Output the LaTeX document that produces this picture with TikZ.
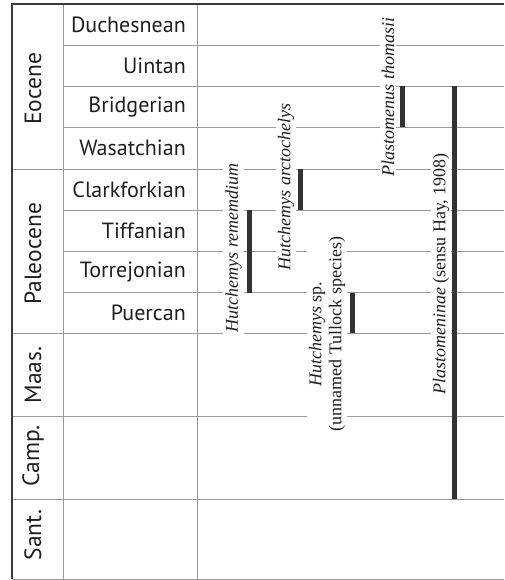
\documentclass[tikz,border=0pt]{standalone}
\usepackage{fontspec}
\setmainfont{Liberation Serif}
\setsansfont{PT Sans}
\definecolor{gridgray}{HTML}{9A9A9A}
\definecolor{framegray}{HTML}{3A3A3A}
\definecolor{bargray}{HTML}{333333}
\begin{document}
\begin{tikzpicture}[x=1pt,y=-1pt,
  grid/.style={draw=gridgray,line width=0.9pt},
  frame/.style={draw=framegray,line width=2pt},
  bar/.style={draw=bargray,line width=5pt},
  stage/.style={font=\sffamily\fontsize{22}{26}\selectfont,anchor=east,inner sep=0pt,text=black!88},
  epoch/.style={font=\sffamily\fontsize{23.5}{28}\selectfont,rotate=90,inner sep=0pt,text=black!88},
  taxon/.style={font=\fontsize{18}{20}\selectfont,rotate=90,fill=white,inner sep=2pt,text=black!88}]
\useasboundingbox (0,0) rectangle (504,580);
% grid
\foreach \y in {45,86,127.5,210,251,292.5} \draw[grid] (63,\y) -- (504,\y);
\foreach \y in {169,333,416,499,579} \draw[grid] (12,\y) -- (504,\y);
\draw[grid] (63,4) -- (63,579);
\draw[grid] (197,4) -- (197,579);
% frame
\draw[frame] (12,579) -- (12,4) -- (504,4);
% stages
\node[stage] (duch) at (186,24.5) {Duchesnean};
\node[stage] (uint) at (186,65.5) {Uintan};
\node[stage] (brid) at (186,106.75) {Bridgerian};
\node[stage] (wasa) at (186,148.25) {Wasatchian};
\node[stage] (clar) at (186,189.5) {Clarkforkian};
\node[stage] (tiff) at (186,230.5) {Tiffanian};
\node[stage] (torr) at (186,271.75) {Torrejonian};
\node[stage] (puer) at (186,312.75) {Puercan};
% epochs
\node[epoch] (eoc) at (33,89) {Eocene};
\node[epoch] (pal) at (33,254) {Paleocene};
\node[epoch] (maas) at (33,375) {Maas.};
\node[epoch] (camp) at (33,456) {Camp.};
\node[epoch] (sant) at (33,535) {Sant.};
% taxa labels
\node[taxon] (hrem) at (233.5,248) {\textit{Hutchemys rememdium}};
\node[taxon] (harc) at (286,187) {\textit{Hutchemys arctochelys}};
\node[taxon] (ptho) at (388,97) {\textit{Plastomenus thomasii}};
\node[taxon] (plas) at (441,274) {\textit{Plastomeninae} (sensu Hay, 1908)};
\node[taxon,align=center] (hsp) at (327,334) {\textit{Hutchemys} sp.\\(unnamed Tullock species)};
% range bars
\draw[bar] (249,210) -- (249,292.5);
\draw[bar] (300.5,169) -- (300.5,210);
\draw[bar] (402.5,86) -- (402.5,127.5);
\draw[bar] (454.5,86) -- (454.5,499);
\draw[bar] (352,292.5) -- (352,333);
\end{tikzpicture}
\end{document}
